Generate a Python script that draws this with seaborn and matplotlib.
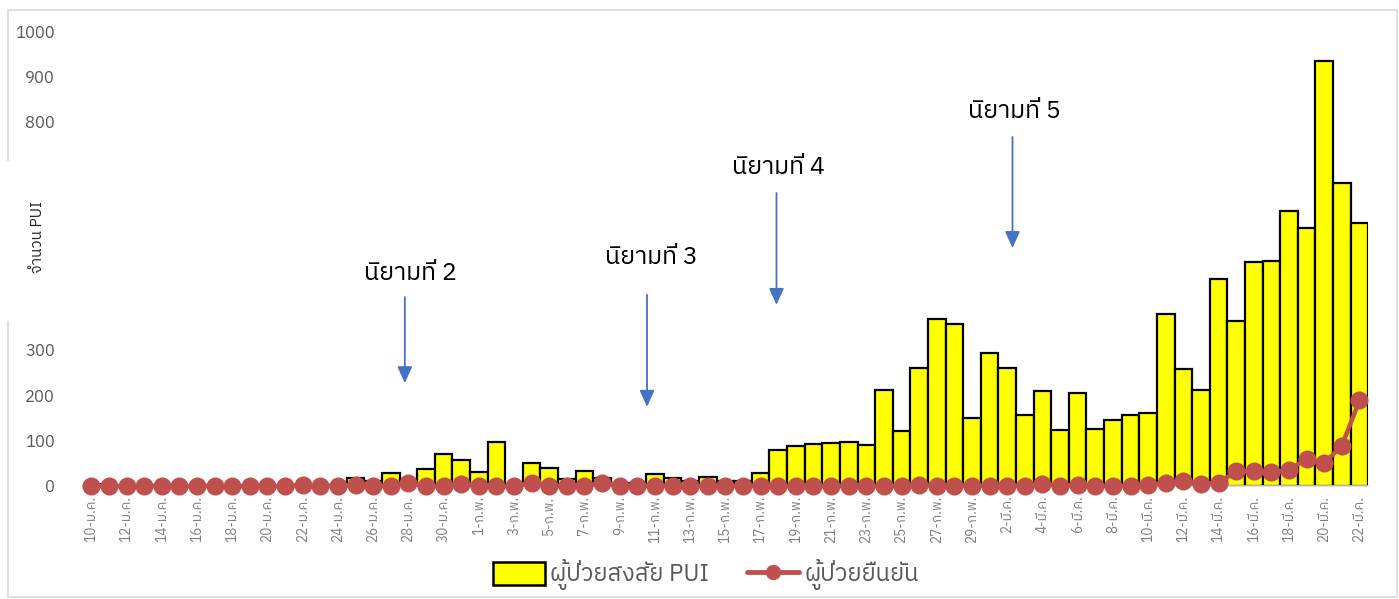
import numpy as np
import pandas as pd
import matplotlib
matplotlib.use('Agg')
import matplotlib.pyplot as plt
import seaborn as sns
from matplotlib import font_manager
from matplotlib.ft2font import FT2Font
from matplotlib.patches import Rectangle, Patch
from matplotlib.lines import Line2D

# ---- data ----
jan_days = list(range(10, 32))
feb_days = list(range(1, 30))
mar_days = list(range(1, 23))

pui_jan = [5, 1, 1, 1, 1, 1, 1, 1, 1, 1, 1, 1, 2, 3, 3, 18, 11, 28, 16, 37, 71, 57]
pui_feb = [31, 97, 0, 51, 39, 15, 34, 18, 4, 6, 26, 17, 12, 20, 11, 10, 28, 79, 88, 93,
           95, 97, 90, 212, 121, 260, 366, 355, 149]
pui_mar = [293, 260, 155, 209, 122, 205, 126, 146, 157, 160, 377, 258, 211, 456, 363,
           493, 495, 604, 566, 935, 667, 577]

conf_jan = [0, 0, 0, 1, 0, 0, 0, 1, 0, 0, 0, 0, 2, 0, 1, 2, 1, 0, 6, 0, 0, 5]
conf_feb = [0, 0, 0, 6, 0, 0, 0, 7, 0, 0, 1, 0, 0, 0, 1, 0, 1, 0, 0, 0,
            0, 0, 0, 0, 0, 3, 0, 1, 1]
conf_mar = [0, 1, 0, 4, 1, 2, 0, 0, 0, 3, 6, 11, 5, 7, 32, 33, 30, 35, 60, 50, 89, 188]

labels = ([f'{d}-ม.ค.' for d in jan_days] + [f'{d}-ก.พ.' for d in feb_days]
          + [f'{d}-มี.ค.' for d in mar_days])
pui = pui_jan + pui_feb + pui_mar
confirmed = conf_jan + conf_feb + conf_mar

# (text, x index, y value) of the definition notes and their arrows
notes = ['นิยามที่ 2', 'นิยามที่ 3', 'นิยามที่ 4', 'นิยามที่ 5']
note_x = [18.1, 31.8, 39.0, 52.4]
note_y = [468, 503, 699, 822]
arrow_x = [17.8, 31.55, 38.9, 52.3]
arrow_top = [415, 420, 644, 767]
arrow_end = [226, 174, 398, 523]


def thai_font():
    # find an installed font that can draw Thai
    found = []
    for f in font_manager.fontManager.ttflist:
        try:
            if ord('น') in FT2Font(f.fname).get_charmap():
                found.append(f)
        except Exception:
            pass
    found.sort(key=lambda f: (f.style != 'normal', abs(f.weight - 400) if isinstance(f.weight, int) else 0,
                              'Sans' not in f.name))
    return found[0].name if found else 'DejaVu Sans'


sns.set_style('white')
font = thai_font()
plt.rcParams['font.family'] = [font, 'DejaVu Sans']

df = pd.DataFrame({'date': labels, 'pui': pui, 'confirmed': confirmed})
df['pos'] = np.arange(len(df))

W, H = 1399, 599
fig = plt.figure(figsize=(W / 100, H / 100), dpi=100)
ax = fig.add_axes([82.5 / W, 1 - 486 / H, (1368.3 - 82.5) / W, (486 - 31) / H])

sns.barplot(data=df, x='date', y='pui', color='#FFFF00', edgecolor='black',
            linewidth=1.6, width=1.0, saturation=1, ax=ax, zorder=2)
sns.lineplot(data=df, x='pos', y='confirmed', color='#C0504D', linewidth=3.2,
             marker='o', markersize=13, markeredgewidth=0, ax=ax, zorder=3,
             clip_on=False)

ax.set_xlim(-0.5, len(df) - 0.5)
ax.set_ylim(0, 1000)
yt = list(range(0, 1001, 100))
ax.set_yticks(yt)
# 400-600 sit under the white text box, so they are left blank
ax.set_yticklabels(['' if v in (400, 500, 600) else str(v) for v in yt])
ax.set_xticks(df['pos'][::2])
ax.set_xticklabels(df['date'][::2], rotation=90, fontsize=9.8, color='#7F7F7F')
ax.tick_params(axis='y', length=0, pad=20, labelsize=12, labelcolor='#595959')
ax.tick_params(axis='x', length=0, pad=7)
ax.set_xticks(df['pos'][::2] - 0.5, minor=True)
ax.tick_params(axis='x', which='minor', length=5, color='#D9D9D9', width=1)
ax.set_xlabel('')
ax.set_ylabel('')
for s in ['top', 'right', 'left']:
    ax.spines[s].set_visible(False)
ax.spines['bottom'].set_color('#D9D9D9')
ax.spines['bottom'].set_linewidth(1.2)

for t, x, y in zip(notes, note_x, note_y):
    ax.text(x, y, t, ha='center', va='center', fontsize=18, color='black')
for x, y0, y1 in zip(arrow_x, arrow_top, arrow_end):
    ax.annotate('', xy=(x, y1), xytext=(x, y0),
                arrowprops=dict(arrowstyle='-|>,head_length=1.0,head_width=0.45',
                                color='#4472C4', lw=1.3, shrinkA=0, shrinkB=0))

# chart border and the white text box over the left axis
fig.patches.append(Rectangle((8 / W, 1 - 597 / H), (1397 - 8) / W, (597 - 10) / H,
                             transform=fig.transFigure, fill=False,
                             edgecolor='#D9D9D9', linewidth=1.2, zorder=4))
fig.patches.append(Rectangle((0, 1 - 321 / H), 62 / W, 160 / H,
                             transform=fig.transFigure, facecolor='white',
                             edgecolor='none', zorder=5))
fig.text(38 / W, 1 - 237 / H, 'จำนวน PUI', rotation=90, ha='center', va='center',
         fontsize=11, color='#262626', zorder=6)

handles = [Patch(facecolor='#FFFF00', edgecolor='black', linewidth=1.8),
           Line2D([], [], color='#C0504D', linewidth=3.5, marker='o', markersize=10)]
fig.legend(handles, ['ผู้ป่วยสงสัย PUI', 'ผู้ป่วยยืนยัน'], loc='center',
           bbox_to_anchor=(706 / W, 1 - 575 / H), ncol=2, frameon=False,
           fontsize=17, labelcolor='#595959', handlelength=2.2, handleheight=1.1,
           handletextpad=0.25, columnspacing=1.6)

fig.savefig('out.png', dpi=100)
